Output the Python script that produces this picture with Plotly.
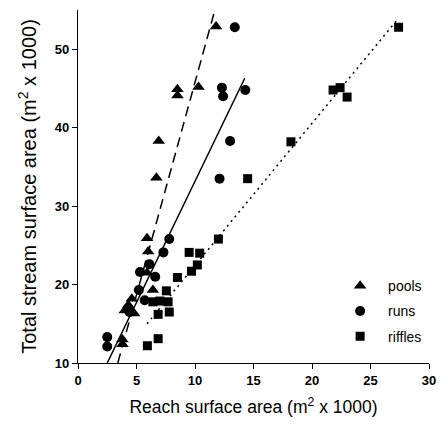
import plotly.graph_objects as go

# Data (units: m^2 x 1000)
pools_x = [11.8, 10.3, 8.5, 8.5, 6.9, 6.7, 5.9, 6.0, 5.9, 6.4, 4.6, 4.3, 4.0, 4.8, 3.8, 3.8]
pools_y = [52.9, 45.2, 44.9, 44.1, 38.3, 33.6, 25.9, 24.2, 21.5, 19.3, 18.2, 17.4, 16.7, 16.3, 13.0, 12.4]

runs_x = [13.4, 12.3, 14.3, 12.4, 13.0, 12.1, 7.8, 7.3, 6.1, 5.3, 6.6, 5.2, 5.7, 4.4, 2.5, 2.5]
runs_y = [52.8, 45.1, 44.8, 44.0, 38.3, 33.5, 25.8, 24.1, 22.6, 21.6, 21.0, 19.3, 18.0, 16.5, 13.3, 12.1]

riffles_x = [27.4, 21.8, 22.4, 23.0, 18.2, 14.5, 12.0, 9.5, 10.4, 10.2, 9.7, 8.5, 7.55, 6.4, 7.0, 7.7, 7.8, 6.85, 6.85, 5.93]
riffles_y = [52.8, 44.8, 45.1, 43.9, 38.2, 33.5, 25.8, 24.1, 24.0, 22.5, 21.7, 20.9, 19.2, 17.8, 17.9, 17.8, 16.5, 16.2, 13.1, 12.2]

# Regression line endpoints
pools_fit_x = [3.4, 11.7]
pools_fit_y = [10.0, 55.0]
runs_fit_x = [2.5, 14.25]
runs_fit_y = [10.0, 46.3]
riffles_fit_x = [5.9, 27.2]
riffles_fit_y = [15.0, 53.6]

x_ticks = [0, 5, 10, 15, 20, 25, 30]
y_ticks = [10, 20, 30, 40, 50]

fig = go.Figure()

fig.add_trace(go.Scatter(x=pools_fit_x, y=pools_fit_y, mode="lines",
                         line=dict(color="black", width=1.5, dash="10px,6px"),
                         showlegend=False, hoverinfo="skip"))
fig.add_trace(go.Scatter(x=runs_fit_x, y=runs_fit_y, mode="lines",
                         line=dict(color="black", width=1.5),
                         showlegend=False, hoverinfo="skip"))
fig.add_trace(go.Scatter(x=riffles_fit_x, y=riffles_fit_y, mode="lines",
                         line=dict(color="black", width=1.5, dash="2px,4px"),
                         showlegend=False, hoverinfo="skip"))

fig.add_trace(go.Scatter(x=pools_x, y=pools_y, mode="markers", name="pools",
                         legendgroup="a",
                         marker=dict(symbol="triangle-up", size=11, color="black")))
fig.add_trace(go.Scatter(x=runs_x, y=runs_y, mode="markers", name="runs",
                         legendgroup="b",
                         marker=dict(symbol="circle", size=10, color="black")))
fig.add_trace(go.Scatter(x=riffles_x, y=riffles_y, mode="markers", name="riffles",
                         legendgroup="c",
                         marker=dict(symbol="square", size=9, color="black")))

fam = "Liberation Sans, Arial, sans-serif"
tickfont = dict(family=fam, size=13, color="black", weight=700)

# The page body adds an 8px offset; margins compensate so the plot area
# lands where the reference has it.
fig.update_layout(
    width=447, height=427,
    margin=dict(l=70, r=26, t=2, b=72),
    paper_bgcolor="white", plot_bgcolor="white",
    font=dict(family=fam, color="black"),
    showlegend=True,
    legend=dict(x=0.724, y=0.263, xanchor="left", yanchor="top", itemwidth=46,
                bgcolor="rgba(0,0,0,0)", tracegroupgap=4,
                font=dict(family=fam, size=14, color="black")),
    xaxis=dict(range=[0, 30], tickvals=x_ticks, showline=True, linecolor="black", linewidth=1.2,
               ticks="outside", ticklen=5, tickcolor="black", showgrid=False, zeroline=False,
               tickfont=tickfont, automargin=False,
               title=dict(text="Reach surface area (m<sup>2</sup> x 1000)",
                          font=dict(family=fam, size=17.5, color="black"), standoff=14)),
    yaxis=dict(range=[10, 55], tickvals=y_ticks, showline=True, linecolor="black", linewidth=1.2,
               ticks="outside", ticklen=5, tickcolor="black", showgrid=False, zeroline=False,
               tickfont=tickfont, automargin=False,
               title=dict(text="Total stream surface area (m<sup>2</sup> x 1000)",
                          font=dict(family=fam, size=20, color="black"), standoff=12)),
)

fig.write_html("out.html")
